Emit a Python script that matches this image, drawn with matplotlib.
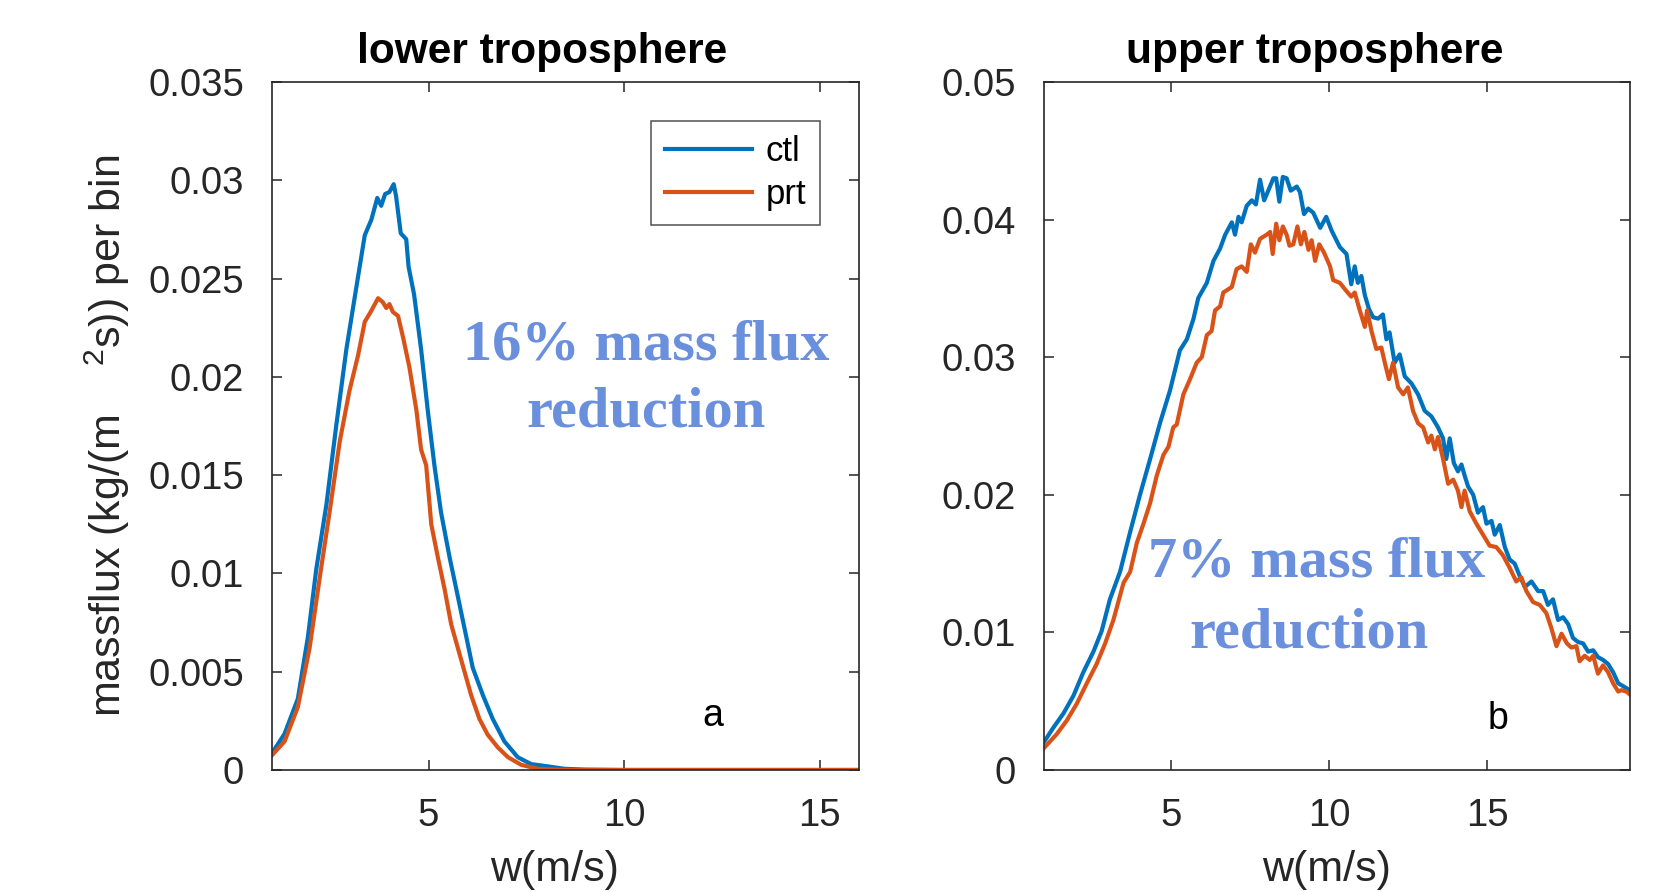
"""Mass flux distributions, lower vs upper troposphere."""

import matplotlib

matplotlib.use("Agg")
import matplotlib.pyplot as plt

plt.rcParams["font.family"] = ["Liberation Sans", "DejaVu Sans"]
plt.rcParams["mathtext.fontset"] = "custom"
plt.rcParams["mathtext.rm"] = "Liberation Sans"
plt.rcParams["mathtext.it"] = "Liberation Sans"

CTL_COLOR = "#0072BD"
PRT_COLOR = "#D95319"
NOTE_COLOR = "#6a8fdc"
AX_COLOR = "#262626"

# lower troposphere
low_ctl_w = [1.0, 1.32, 1.66, 1.92, 2.13, 2.39, 2.64, 2.90, 3.11, 3.37, 3.54, 3.69, 3.79,
             3.89, 4.0, 4.11, 4.17, 4.29, 4.43, 4.49, 4.63, 4.81, 4.98, 5.15, 5.32, 5.54,
             5.71, 5.92, 6.13, 6.39, 6.64, 6.94, 7.28, 7.62, 8.13, 8.47, 9.0, 10.0, 12.0,
             14.0, 16.0]
low_ctl = [0.00085, 0.00184, 0.00362, 0.0068, 0.0102, 0.0135, 0.0175, 0.0214, 0.0240,
           0.0272, 0.0280, 0.0291, 0.0287, 0.0293, 0.0294, 0.0298, 0.0292, 0.0273, 0.0270,
           0.0256, 0.0242, 0.0214, 0.0183, 0.0155, 0.0131, 0.0108, 0.0092, 0.0072, 0.0052,
           0.0038, 0.0026, 0.00145, 0.00065, 0.0003, 0.00016, 0.00006, 0.00002, 0.0, 0.0,
           0.0, 0.0]

low_prt_w = [1.0, 1.32, 1.66, 1.96, 2.22, 2.47, 2.73, 2.98, 3.20, 3.37, 3.52, 3.71, 3.83,
             3.92, 4.0, 4.09, 4.22, 4.35, 4.51, 4.69, 4.81, 4.94, 5.07, 5.24, 5.41, 5.58,
             5.75, 5.92, 6.09, 6.30, 6.51, 6.77, 7.03, 7.37, 7.79, 8.47, 10.0, 12.0, 14.0,
             16.0]
low_prt = [0.00075, 0.00145, 0.0032, 0.0062, 0.0098, 0.0131, 0.0167, 0.0193, 0.0211,
           0.0228, 0.0233, 0.0240, 0.0238, 0.0235, 0.0237, 0.0233, 0.0231, 0.0220, 0.0205,
           0.0183, 0.0163, 0.0155, 0.0125, 0.0108, 0.0092, 0.0074, 0.0062, 0.0050, 0.0038,
           0.0026, 0.0018, 0.00115, 0.00065, 0.00026, 0.00006, 0.0, 0.0, 0.0, 0.0, 0.0]

# upper troposphere
up_ctl_w = [1.0, 1.29, 1.61, 1.93, 2.24, 2.56, 2.82, 3.08, 3.40, 3.72, 4.03, 4.35, 4.66,
            4.98, 5.29, 5.51, 5.72, 5.87, 6.14, 6.35, 6.56, 6.72, 6.93, 7.03, 7.14, 7.24,
            7.40, 7.56, 7.69, 7.82, 7.95, 8.08, 8.24, 8.33, 8.43, 8.54, 8.66, 8.79, 8.98,
            9.08, 9.21, 9.34, 9.50, 9.72, 9.91, 10.08, 10.34, 10.55, 10.70, 10.81, 10.91,
            11.02, 11.13, 11.26, 11.39, 11.55, 11.70, 11.81, 11.91, 12.07, 12.23, 12.39,
            12.60, 12.81, 13.02, 13.23, 13.44, 13.60, 13.70, 13.81, 13.94, 14.07, 14.18,
            14.28, 14.39, 14.55, 14.70, 14.86, 14.97, 15.13, 15.23, 15.39, 15.55, 15.70,
            15.86, 16.02, 16.18, 16.39, 16.60, 16.76, 16.91, 17.07, 17.23, 17.39, 17.55,
            17.70, 17.86, 18.02, 18.18, 18.34, 18.49, 18.65, 18.81, 18.97, 19.13, 19.28,
            19.49]
up_ctl = [0.00204, 0.00306, 0.0041, 0.0054, 0.0071, 0.0086, 0.0101, 0.0124, 0.0144,
          0.0173, 0.0200, 0.0226, 0.0252, 0.0276, 0.0305, 0.0313, 0.0328, 0.0343, 0.0354,
          0.0370, 0.0379, 0.0389, 0.0398, 0.0389, 0.0402, 0.0398, 0.0410, 0.0414, 0.0411,
          0.0429, 0.0414, 0.0421, 0.0430, 0.0430, 0.0413, 0.0431, 0.0430, 0.0421, 0.0424,
          0.0420, 0.0404, 0.0408, 0.0405, 0.0394, 0.0402, 0.0392, 0.0380, 0.0375, 0.0353,
          0.0366, 0.0354, 0.0359, 0.0345, 0.0335, 0.0329, 0.0328, 0.0331, 0.0313, 0.0318,
          0.0296, 0.0302, 0.0286, 0.0281, 0.0273, 0.0261, 0.0257, 0.0249, 0.0241, 0.0226,
          0.0241, 0.0223, 0.0217, 0.0222, 0.0214, 0.0206, 0.0200, 0.0187, 0.0191, 0.0179,
          0.0181, 0.0171, 0.0178, 0.0162, 0.0153, 0.0150, 0.0141, 0.0133, 0.0137, 0.0130,
          0.0130, 0.0120, 0.0124, 0.0109, 0.0111, 0.0106, 0.0096, 0.0093, 0.0092, 0.0086,
          0.0087, 0.0082, 0.0080, 0.0077, 0.0071, 0.0063, 0.0061, 0.0058]

up_prt_w = [1.0, 1.4, 1.72, 2.03, 2.35, 2.66, 2.93, 3.19, 3.51, 3.72, 3.93, 4.14, 4.35,
            4.56, 4.77, 4.93, 5.08, 5.19, 5.40, 5.61, 5.82, 5.98, 6.14, 6.29, 6.40, 6.56,
            6.66, 6.93, 7.08, 7.24, 7.40, 7.53, 7.66, 7.82, 8.03, 8.14, 8.22, 8.33, 8.43,
            8.54, 8.66, 8.75, 8.87, 9.0, 9.11, 9.22, 9.35, 9.45, 9.56, 9.69, 9.84, 10.03,
            10.13, 10.34, 10.55, 10.70, 10.81, 10.97, 11.13, 11.20, 11.34, 11.49, 11.65,
            11.76, 11.89, 12.02, 12.18, 12.34, 12.49, 12.65, 12.81, 12.97, 13.13, 13.23,
            13.34, 13.44, 13.60, 13.76, 13.92, 14.07, 14.18, 14.28, 14.44, 14.65, 14.86,
            15.07, 15.28, 15.49, 15.70, 15.91, 16.07, 16.23, 16.44, 16.65, 16.86, 17.02,
            17.18, 17.34, 17.51, 17.65, 17.81, 17.91, 18.07, 18.23, 18.34, 18.49, 18.65,
            18.81, 18.97, 19.13, 19.23, 19.39, 19.49]
up_prt = [0.0016, 0.0026, 0.0036, 0.0048, 0.0063, 0.0077, 0.0092, 0.0109, 0.0136, 0.0144,
          0.0165, 0.0179, 0.0194, 0.0214, 0.0229, 0.0235, 0.0249, 0.0251, 0.0273, 0.0284,
          0.0296, 0.0300, 0.0316, 0.0319, 0.0334, 0.0337, 0.0347, 0.0351, 0.0364, 0.0366,
          0.0362, 0.0382, 0.0376, 0.0386, 0.0389, 0.0391, 0.0375, 0.0397, 0.0385, 0.0395,
          0.0389, 0.0381, 0.0382, 0.0395, 0.0382, 0.0391, 0.0378, 0.0385, 0.0370, 0.0382,
          0.0376, 0.0366, 0.0356, 0.0354, 0.0348, 0.0344, 0.0347, 0.0334, 0.0322, 0.0334,
          0.0319, 0.0306, 0.0307, 0.0296, 0.0284, 0.0296, 0.0278, 0.0273, 0.0278, 0.0261,
          0.0252, 0.0249, 0.0238, 0.0243, 0.0233, 0.0242, 0.0226, 0.0208, 0.0211, 0.0203,
          0.0191, 0.0203, 0.0188, 0.0179, 0.0171, 0.0163, 0.0162, 0.0156, 0.0147, 0.0137,
          0.0140, 0.0130, 0.0122, 0.0120, 0.0114, 0.0103, 0.0090, 0.0099, 0.0092, 0.0089,
          0.0090, 0.0079, 0.0083, 0.0080, 0.0083, 0.0070, 0.0076, 0.0071, 0.0063, 0.0057,
          0.0058, 0.0057, 0.0055]

low_yticks = [0, 0.005, 0.01, 0.015, 0.02, 0.025, 0.03, 0.035]
low_yticklabels = ["0", "0.005", "0.01", "0.015", "0.02", "0.025", "0.03", "0.035"]
up_yticks = [0, 0.01, 0.02, 0.03, 0.04, 0.05]
up_yticklabels = ["0", "0.01", "0.02", "0.03", "0.04", "0.05"]
xticks = [5, 10, 15]


def style_axes(ax):
    for sp in ax.spines.values():
        sp.set_color(AX_COLOR)
        sp.set_linewidth(1.2)
    ax.tick_params(direction="in", length=7, width=1.1, color=AX_COLOR,
                   labelcolor=AX_COLOR, labelsize=27.5, top=True, right=True, pad=20)


def note(ax, lines):
    """Write the reduction note one line at a time."""
    for text, x, y in lines:
        ax.text(x, y, text, transform=ax.transAxes, ha="center", va="center",
                fontsize=42, fontweight="bold", family="Liberation Serif",
                color=NOTE_COLOR)


fig = plt.figure(figsize=(16.75, 8.92), dpi=100)
ax1 = fig.add_axes([0.1624, 0.1368, 0.3504, 0.7713])
ax2 = fig.add_axes([0.6233, 0.1368, 0.3498, 0.7713])

ax1.plot(low_ctl_w, low_ctl, color=CTL_COLOR, lw=3, label="ctl")
ax1.plot(low_prt_w, low_prt, color=PRT_COLOR, lw=3, label="prt")
ax1.set_xlim(1, 16)
ax1.set_ylim(0, 0.035)
ax1.set_xticks(xticks)
ax1.set_yticks(low_yticks)
ax1.set_yticklabels(low_yticklabels)
style_axes(ax1)
ax1.set_title("lower troposphere", fontsize=30.5, fontweight="bold", x=0.46, pad=14)
ax1.set_xlabel("w(m/s)", fontsize=31, color=AX_COLOR, labelpad=12)
ax1.xaxis.label.set_x(0.481)
ax1.set_ylabel("massflux (kg/(m    $^2$s)) per bin", fontsize=31, color=AX_COLOR,
               labelpad=12)
ax1.yaxis.label.set_y(0.485)
leg = ax1.legend(loc="upper right", bbox_to_anchor=(0.934, 0.943), fontsize=25,
                 frameon=True, fancybox=False, edgecolor=AX_COLOR, handlelength=2.5,
                 borderpad=0.4, labelspacing=0.3, handletextpad=0.4, borderaxespad=0)
leg.get_frame().set_linewidth(1.1)
note(ax1, [("16% mass flux", 0.638, 0.617), ("reduction", 0.637, 0.520)])
ax1.text(0.751, 0.078, "a", transform=ax1.transAxes, ha="center", va="center",
         fontsize=27, color="black")

ax2.plot(up_ctl_w, up_ctl, color=CTL_COLOR, lw=3)
ax2.plot(up_prt_w, up_prt, color=PRT_COLOR, lw=3)
ax2.set_xlim(1, 19.5)
ax2.set_ylim(0, 0.05)
ax2.set_xticks(xticks)
ax2.set_yticks(up_yticks)
ax2.set_yticklabels(up_yticklabels)
style_axes(ax2)
ax2.set_title("upper troposphere", fontsize=30.5, fontweight="bold", x=0.4625, pad=14)
ax2.set_xlabel("w(m/s)", fontsize=31, color=AX_COLOR, labelpad=12)
ax2.xaxis.label.set_x(0.482)
note(ax2, [("7% mass flux", 0.465, 0.301), ("reduction", 0.452, 0.199)])
ax2.text(0.775, 0.074, "b", transform=ax2.transAxes, ha="center", va="center",
         fontsize=27, color="black")

fig.savefig("out.png", dpi=100)
plt.close(fig)
